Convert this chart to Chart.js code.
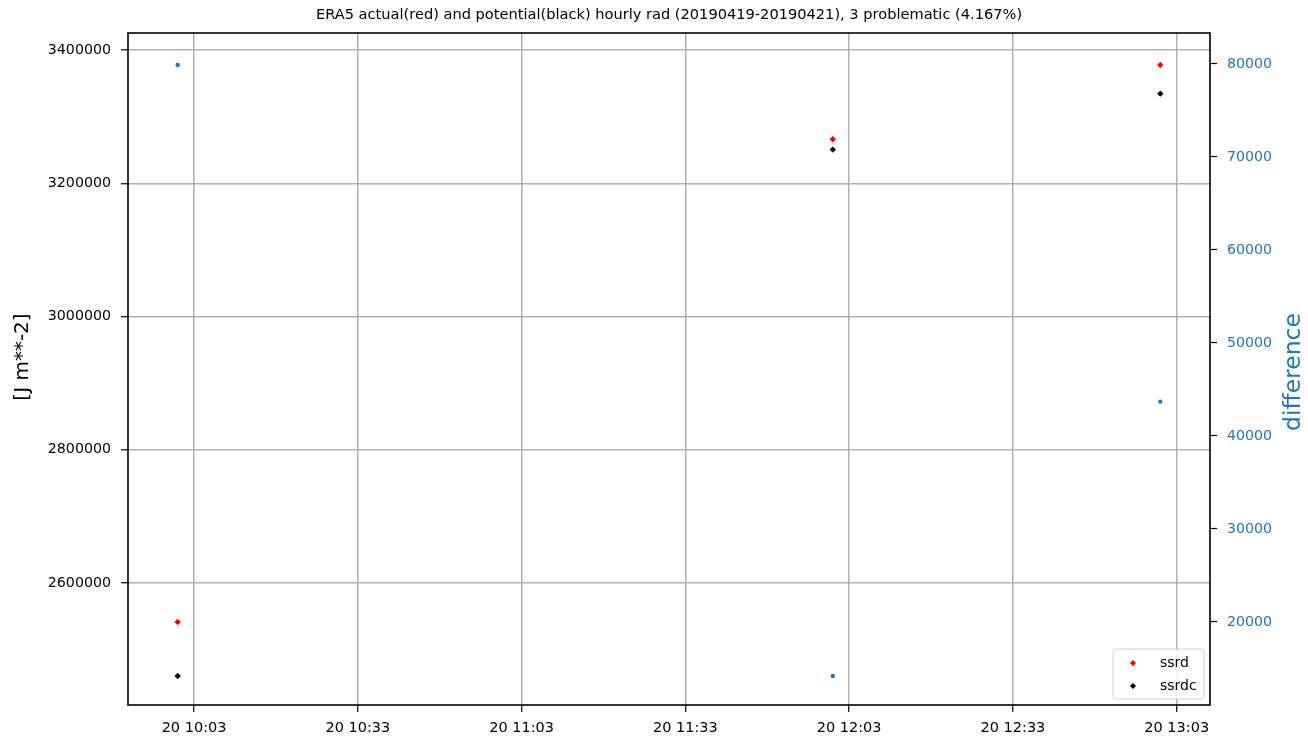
<!DOCTYPE html>
<html><head><meta charset="utf-8">
<script src="https://cdn.jsdelivr.net/npm/chart.js@4"></script>
<style>html,body{margin:0;padding:0;background:#fff;}#wrap{width:1308px;height:739px;position:relative;}</style>
</head><body><div id="wrap"><canvas id="c" width="1308" height="739"></canvas></div>
<script>
// times as minutes after midnight on day 20
const times = [600, 720, 780];
const ssrd = [2541500, 3266000, 3377500];
const ssrdc = [2460500, 3250500, 3334500];
const difference = [79900, 14200, 43700];
const xTicks = [603, 633, 663, 693, 723, 753, 783];
const leftTicks = [2600000, 2800000, 3000000, 3200000, 3400000];
const rightTicks = [20000, 30000, 40000, 50000, 60000, 70000, 80000];
const titleText = 'ERA5 actual(red) and potential(black) hourly rad (20190419-20190421), 3 problematic (4.167%)';
const FONT = 'DejaVu Sans';
const BLUE = '#1f77b4';

function fmtTime(m){const h=Math.floor(m/60), mm=m%60;return '20 '+String(h).padStart(2,'0')+':'+String(mm).padStart(2,'0');}

const decor = {
  id:'decor',
  afterDatasetsDraw(chart){
    const ctx=chart.ctx, a=chart.chartArea;
    ctx.save();
    ctx.strokeStyle='#000'; ctx.lineWidth=1.6;
    ctx.strokeRect(a.left,a.top,a.right-a.left,a.bottom-a.top);
    // legend
    const lx=1113, ly=649, lw=91, lh=50;
    ctx.beginPath();
    if(ctx.roundRect) ctx.roundRect(lx,ly,lw,lh,3); else ctx.rect(lx,ly,lw,lh);
    ctx.fillStyle='rgba(255,255,255,0.85)'; ctx.fill();
    ctx.strokeStyle='#d0d0d0'; ctx.lineWidth=1; ctx.stroke();
    const items=[{c:'#ff0000',t:'ssrd',y:663},{c:'#000000',t:'ssrdc',y:686}];
    ctx.font='14px "'+FONT+'"'; ctx.textBaseline='middle'; ctx.textAlign='left';
    items.forEach(it=>{
      ctx.fillStyle=it.c; ctx.beginPath();
      const x=1133,y=it.y,r=3;
      ctx.moveTo(x,y-r);ctx.lineTo(x+r,y);ctx.lineTo(x,y+r);ctx.lineTo(x-r,y);ctx.closePath();ctx.fill();
      ctx.fillStyle='#000'; ctx.fillText(it.t,1160,it.y);
    });
    ctx.restore();
  },
  afterDraw(chart){
    const ctx=chart.ctx;
    ctx.save();
    ctx.fillStyle='#000'; ctx.font='14.6px "'+FONT+'"'; ctx.textAlign='center'; ctx.textBaseline='middle';
    ctx.fillText(titleText,669,15);
    ctx.font='20px "'+FONT+'"';
    ctx.translate(23,357); ctx.rotate(-Math.PI/2); ctx.fillText('[J m**-2]',0,0);
    ctx.restore();
    ctx.save();
    ctx.fillStyle=BLUE; ctx.font='23.5px "'+FONT+'"'; ctx.textAlign='center'; ctx.textBaseline='middle';
    ctx.translate(1294,372); ctx.rotate(-Math.PI/2); ctx.fillText('difference',0,0);
    ctx.restore();
  }
};

const diamond = (color)=>({pointStyle:'rectRot',pointRadius:3.2,pointHoverRadius:3.2,backgroundColor:color,borderColor:color,borderWidth:0});

new Chart(document.getElementById('c'),{
  type:'scatter',
  data:{datasets:[
    Object.assign({label:'ssrd',data:times.map((t,i)=>({x:t,y:ssrd[i]})),yAxisID:'y'},diamond('#ff0000')),
    Object.assign({label:'ssrdc',data:times.map((t,i)=>({x:t,y:ssrdc[i]})),yAxisID:'y'},diamond('#000000')),
    {label:'difference',data:times.map((t,i)=>({x:t,y:difference[i]})),yAxisID:'y1',pointStyle:'circle',pointRadius:2.2,backgroundColor:BLUE,borderColor:BLUE,borderWidth:0}
  ]},
  options:{
    responsive:false,animation:false,
    layout:{padding:{top:33,left:0,right:0,bottom:0}},
    plugins:{legend:{display:false},title:{display:false},tooltip:{enabled:false}},
    scales:{
      x:{type:'linear',min:590.9,max:789.1,
        afterBuildTicks(s){s.ticks=xTicks.map(v=>({value:v}));},
        afterFit(s){s.height=34;},
        ticks:{callback:v=>fmtTime(v),color:'#000',font:{family:FONT,size:14.5},padding:8,maxRotation:0,autoSkip:false},
        grid:{color:'#b0b0b0',lineWidth:1.5,tickColor:'#000',tickLength:7,tickWidth:1.2},
        border:{display:false}},
      y:{type:'linear',position:'left',min:2417000,max:3425500,
        afterBuildTicks(s){s.ticks=leftTicks.map(v=>({value:v}));},
        afterFit(s){s.width=128;},
        ticks:{callback:v=>String(v),color:'#000',font:{family:FONT,size:14.2},padding:10},
        grid:{color:'#b0b0b0',lineWidth:1.5,tickColor:'#000',tickLength:7,tickWidth:1.2},
        border:{display:false}},
      y1:{type:'linear',position:'right',min:11075,max:83333,
        afterBuildTicks(s){s.ticks=rightTicks.map(v=>({value:v}));},
        afterFit(s){s.width=98;},
        ticks:{callback:v=>String(v),color:BLUE,font:{family:FONT,size:14.2},padding:10},
        grid:{drawOnChartArea:false,tickColor:'#000',tickLength:7,tickWidth:1.2},
        border:{display:false}}
    }
  },
  plugins:[decor]
});
</script></body></html>
